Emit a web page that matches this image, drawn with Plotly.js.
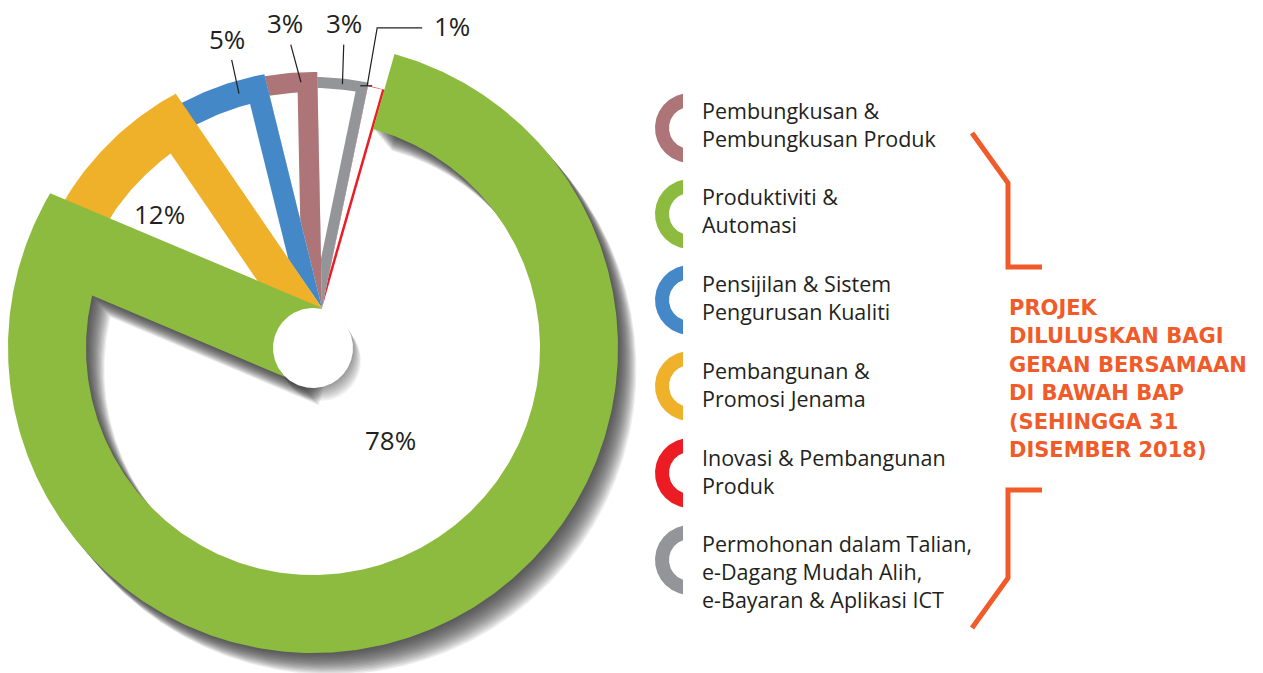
<!DOCTYPE html>
<html><head><meta charset="utf-8">
<script src="https://cdn.plot.ly/plotly-3.0.1.min.js"></script>
<style>html,body{margin:0;padding:0;background:#fff;}#chart{width:1263px;height:673px;}</style>
</head><body><div id="chart"></div>
<script>
// ---------------- data ----------------
const categories = [
  'Pembungkusan &\nPembungkusan Produk',
  'Produktiviti &\nAutomasi',
  'Pensijilan & Sistem\nPengurusan Kualiti',
  'Pembangunan &\nPromosi Jenama',
  'Inovasi & Pembangunan\nProduk',
  'Permohonan dalam Talian,\ne-Dagang Mudah Alih,\ne-Bayaran & Aplikasi ICT'
];
const values = [3, 78, 5, 12, 1, 3];                 // percent
const valueLabels = ['3%', '78%', '5%', '12%', '1%', '3%'];
const pieOrder = [1, 3, 2, 0, 5, 4];                 // clockwise, starting with the largest slice
const sideTitle = ['PROJEK', 'DILULUSKAN BAGI', 'GERAN BERSAMAAN', 'DI BAWAH BAP', '(SEHINGGA 31', 'DISEMBER 2018)'];

// ---------------- style ----------------
const W = 1263, H = 673;
const colors = ['#ad7577', '#8dbb3f', '#4588c8', '#efb02a', '#ec1c24', '#939598'];
const textColor = '#231f20', accent = '#f15a29';
const FONT = 'Open Sans, Noto Sans, sans-serif';
const C = [313, 348];          // centre of the arcs
const A = [322, 308];          // point where slice edges meet
const startAngle = 15.5;       // degrees clockwise from 12 o'clock
const degPerUnit = 3.654;
const outerR = [276, 305, 278, 289, 268, 271];
const bandT  = [20, 78, 26, 48, 0.5, 11];
const edgeW  = [20, 78, 21, 38, 2.5, 11];
const holeR = 40;
// label placement: [angle offset from slice middle, radius (inside) | -1 (leader), text dx, text dy]
const labelPlace = [[2, -1, -16, -59], [-18, 120, 0, 0], [3, -1, -12, -55], [1.5, 204, 0, 0], [-2, -1, 85, -60], [0, -1, 2, -61]];
const legendIconY = [128, 214, 300, 386, 473, 560];
const legendTextY = [110, 196, 283, 370, 457, 543];
const legendIconX = 690, legendTextX = 700;
const titleX = 1007, titleY0 = 308, titleDY = 28.4;

// ---------------- geometry helpers ----------------
const rad = d => d * Math.PI / 180;
const ptC = (c, a, r) => [c[0] + r * Math.sin(rad(a)), c[1] - r * Math.cos(rad(a))];
const pt = (a, r) => ptC(C, a, r);
function arcPts(c, a0, a1, r) {
  const n = Math.max(6, Math.ceil(Math.abs(a1 - a0) / 0.75)); const out = [];
  for (let k = 0; k <= n; k++) out.push(ptC(c, a0 + (a1 - a0) * k / n, r));
  return out;
}
const unit = v => { const l = Math.hypot(v[0], v[1]); return [v[0] / l, v[1] / l]; };
const angOf = p => Math.atan2(p[0] - C[0], -(p[1] - C[1])) * 180 / Math.PI;
function near(a, ref) { while (a - ref > 180) a -= 360; while (ref - a > 180) a += 360; return a; }
const cross = (a, b) => a[0] * b[1] - a[1] * b[0];
function lineLine(p, d, q, e) { const s = cross([q[0] - p[0], q[1] - p[1]], e) / cross(d, e); return [p[0] + s * d[0], p[1] + s * d[1]]; }
function lineCircle(p, d, r) {
  const f = [p[0] - C[0], p[1] - C[1]]; const b = f[0] * d[0] + f[1] * d[1]; const c = f[0] * f[0] + f[1] * f[1] - r * r;
  const t = -b + Math.sqrt(b * b - c); return [p[0] + t * d[0], p[1] + t * d[1]];
}

// slice angles (first slice clockwise from start; the rest laid back from start+360)
const a0 = [], a1 = [];
const first = pieOrder[0];
a0[first] = startAngle; a1[first] = startAngle + values[first] * degPerUnit;
let cur = startAngle + 360;
for (let k = pieOrder.length - 1; k >= 1; k--) { const i = pieOrder[k]; a1[i] = cur; a0[i] = cur - values[i] * degPerUnit; cur = a0[i]; }

function sliceGeom(i) {
  const R = outerR[i], rin = R - bandT[i], w = edgeW[i];
  const P0 = pt(a0[i], R), P1 = pt(a1[i], R);
  const d0 = unit([P0[0] - A[0], P0[1] - A[1]]), d1 = unit([P1[0] - A[0], P1[1] - A[1]]);
  const n = [d1[1], -d1[0]];
  const B = [A[0] + w * n[0], A[1] + w * n[1]];
  const Q = lineLine(A, d0, B, d1);
  const S = lineCircle(A, d0, rin), E = lineCircle(B, d1, rin);
  const sa = near(angOf(S), a0[i]), ea = near(angOf(E), a1[i]);
  return { outer: [A, ...arcPts(C, a0[i], a1[i], R), A], inner: [Q, S, ...arcPts(C, sa, ea, rin), E, Q] };
}

function poly(pts, fill, dx = 0, dy = 0) {
  return { type: 'scatter', mode: 'lines', x: pts.map(p => p ? p[0] + dx : null), y: pts.map(p => p ? p[1] + dy : null),
    fill: 'toself', fillcolor: fill, line: { width: 0, color: 'rgba(0,0,0,0)' }, hoverinfo: 'skip', showlegend: false };
}

const traces = [];
// small slices first (drawn under the largest one)
for (let k = pieOrder.length - 1; k >= 1; k--) {
  const i = pieOrder[k]; const g = sliceGeom(i);
  traces.push(poly(g.outer, colors[i]));
  traces.push(poly(g.inner, '#ffffff'));
}
// largest slice as frame with hole + soft shadow
const gg = sliceGeom(first);
const frame = [...gg.outer, null, ...gg.inner.slice().reverse()];
for (let k = 16; k >= 1; k--) traces.push(poly(frame, 'rgba(50,50,50,0.085)', k * 1.15, k * 1.35));
traces.push(poly(frame, colors[first]));
// centre hole
const circ = arcPts(C, 0, 360, holeR);
for (let k = 10; k >= 1; k--) traces.push(poly(circ, 'rgba(50,50,50,0.06)', k * 0.8, k * 1.3));
traces.push(poly(circ, '#ffffff'));

// labels
const annotations = [];
const leaderX = [], leaderY = [];
values.forEach((v, i) => {
  const [da, lr, dx, dy] = labelPlace[i];
  const mid = (a0[i] + a1[i]) / 2 + da;
  const font = { family: FONT, size: 26, color: textColor };
  if (lr > 0) {
    const p = pt(mid, lr);
    annotations.push({ x: p[0], y: p[1], xref: 'x', yref: 'y', text: valueLabels[i], showarrow: false, font });
  } else {
    const tip = pt(mid, outerR[i] - bandT[i] / 2);
    if (v <= 1) {
      leaderX.push(tip[0] - 7, tip[0] + 5, null, tip[0], tip[0] + 10, tip[0] + 55, null);
      leaderY.push(tip[1], tip[1], null, tip[1], tip[1] + dy + 2, tip[1] + dy + 2, null);
      annotations.push({ x: tip[0] + dx, y: tip[1] + dy, xref: 'x', yref: 'y', text: valueLabels[i], showarrow: false, font });
    } else {
      annotations.push({ x: tip[0], y: tip[1], xref: 'x', yref: 'y', text: valueLabels[i], showarrow: true,
        arrowhead: 0, arrowwidth: 1.2, arrowcolor: textColor, ax: dx, ay: dy, startstandoff: 2, font });
    }
  }
});
traces.push({ type: 'scatter', mode: 'lines', x: leaderX, y: leaderY, line: { color: textColor, width: 1.2 }, hoverinfo: 'skip', showlegend: false });

// legend icons and texts
values.forEach((v, i) => {
  const c = [legendIconX, legendIconY[i]]; const ro = 35, ri = 21, cut = 7;
  const ao = Math.asin(cut / ro) * 180 / Math.PI, ai = Math.asin(cut / ri) * 180 / Math.PI;
  const pts = [...arcPts(c, -ao, -180 + ao, ro), ...arcPts(c, -180 + ai, -ai, ri)];
  traces.push(poly(pts, colors[i]));
  const lines = categories[i].split('\n');
  annotations.push({ x: legendTextX, y: legendTextY[i] + (lines.length - 1) * 14.3, xref: 'x', yref: 'y', xanchor: 'left', yanchor: 'middle', align: 'left',
    text: lines.join('<br>'), showarrow: false, font: { family: FONT, size: 21.5, color: textColor } });
});
sideTitle.forEach((line, k) => {
  annotations.push({ x: titleX, y: titleY0 + k * titleDY, xref: 'x', yref: 'y', xanchor: 'left', yanchor: 'middle', showarrow: false,
    text: line, font: { family: 'DejaVu Sans, sans-serif', size: 21, color: accent, weight: 'bold' } });
});

const shapes = [
  { type: 'path', xref: 'x', yref: 'y', path: 'M972,133 L1008,183 L1008,267 L1042,267', line: { color: accent, width: 5 } },
  { type: 'path', xref: 'x', yref: 'y', path: 'M1042,490 L1008,490 L1008,578 L972,628', line: { color: accent, width: 5 } }
];

const layout = {
  width: W, height: H, margin: { l: 0, r: 0, t: 0, b: 0 }, paper_bgcolor: '#fff', plot_bgcolor: '#fff',
  xaxis: { range: [0, W], visible: false, fixedrange: true },
  yaxis: { range: [H, 0], visible: false, fixedrange: true },
  showlegend: false, hovermode: false, annotations, shapes
};
Plotly.newPlot('chart', traces, layout, { displayModeBar: false, staticPlot: true });
</script></body></html>
